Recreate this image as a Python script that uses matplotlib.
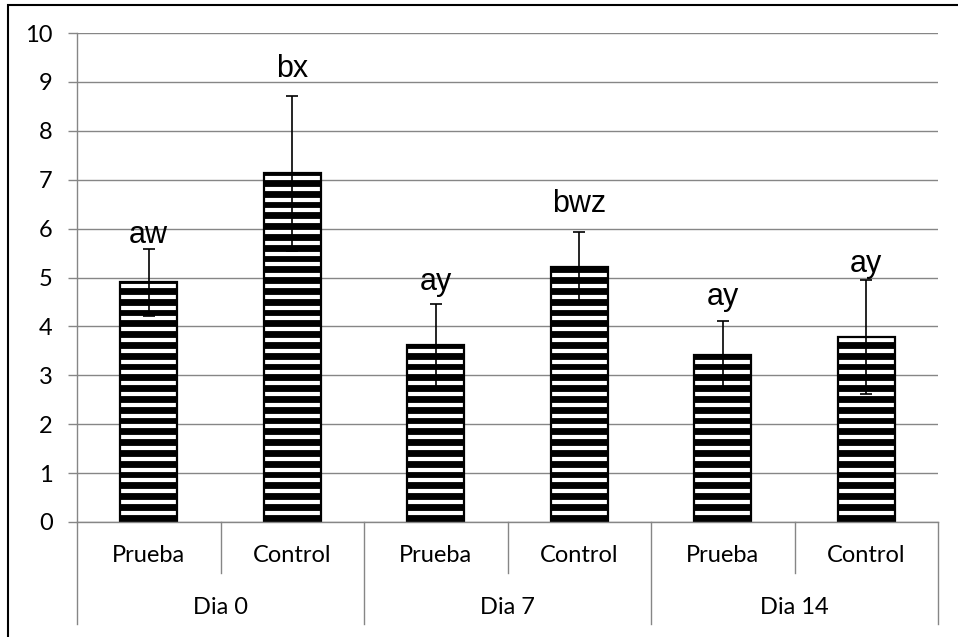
import matplotlib.pyplot as plt
from matplotlib.patches import Rectangle
from matplotlib.transforms import blended_transform_factory
import numpy as np

plt.rcParams['font.family'] = ['Lato', 'DejaVu Sans']

# datos: media y desviación por tratamiento y día
tratamientos = ['Prueba', 'Control', 'Prueba', 'Control', 'Prueba', 'Control']
dias = ['Dia 0', 'Dia 7', 'Dia 14']
medias = [4.90, 7.13, 3.61, 5.21, 3.41, 3.78]
errores = [0.68, 1.58, 0.85, 0.73, 0.71, 1.17]
letras = ['aw', 'bx', 'ay', 'bwz', 'ay', 'ay']
altura_letras = [5.71, 9.10, 4.74, 6.34, 4.44, 5.12]

gris = '#868686'

fig = plt.figure(figsize=(9.58, 6.37), dpi=100)
ax = fig.add_axes([77 / 958, 1 - 522 / 637, 861 / 958, 489 / 637])
ax.set_xlim(-0.5, len(medias) - 0.5)
ax.set_ylim(0, 10)

x = np.arange(len(medias))

# barras con trama de rayas horizontales (fondo negro + rayas blancas)
barras = ax.bar(x, medias, width=0.4, color='black', edgecolor='none', zorder=2)
paso = 10.8 * 10 / ax.bbox.height          # separación de rayas: 10.8 px
rayas_y = np.arange(0.85 * paso, 10, paso)
for b in barras:
    ln = ax.hlines(rayas_y, b.get_x(), b.get_x() + b.get_width(),
                   colors='white', linewidth=3.0, zorder=2.2)
    ln.set_clip_path(b)
ax.bar(x, medias, width=0.4, fill=False, edgecolor='black', linewidth=1.6, zorder=2.4)

ax.errorbar(x, medias, yerr=errores, fmt='none', ecolor='black',
            elinewidth=1.2, capsize=4.2, capthick=1.2, zorder=3)

for xi, txt, yl in zip(x, letras, altura_letras):
    ax.text(xi, yl, txt, ha='center', va='baseline', fontsize=22,
            family=['Liberation Sans', 'DejaVu Sans'], zorder=4)

ax.set_yticks(range(0, 11))
ax.tick_params(axis='y', direction='out', length=6.5, width=1, color=gris,
               labelsize=17, pad=11)
ax.set_axisbelow(True)
ax.grid(axis='y', color=gris, linewidth=1)

for s in ['top', 'right']:
    ax.spines[s].set_visible(False)
for s in ['left', 'bottom']:
    ax.spines[s].set_color(gris)
    ax.spines[s].set_linewidth(1)

# eje de categorías en dos niveles
ax.set_xticks([])
trans = blended_transform_factory(ax.transData, ax.transAxes)
for xi, t in enumerate(tratamientos):
    ax.text(xi, -0.0695, t, ha='center', va='center', fontsize=17, transform=trans)
for i, d in enumerate(dias):
    ax.text(2 * i + 0.5, -0.1753, d, ha='center', va='center', fontsize=17, transform=trans)
for k in range(len(medias) + 1):
    fondo = -0.2086 if k % 2 == 0 else -0.1043
    ax.plot([k - 0.5, k - 0.5], [0, fondo], color=gris, lw=1,
            transform=trans, clip_on=False)

# marco exterior
fig.patches.append(Rectangle((7.5 / 958, -0.1), 1.2, 1.1 - 4.5 / 637,
                             transform=fig.transFigure, fill=False,
                             edgecolor='black', linewidth=1.5))

fig.savefig('out.png', dpi=100)
